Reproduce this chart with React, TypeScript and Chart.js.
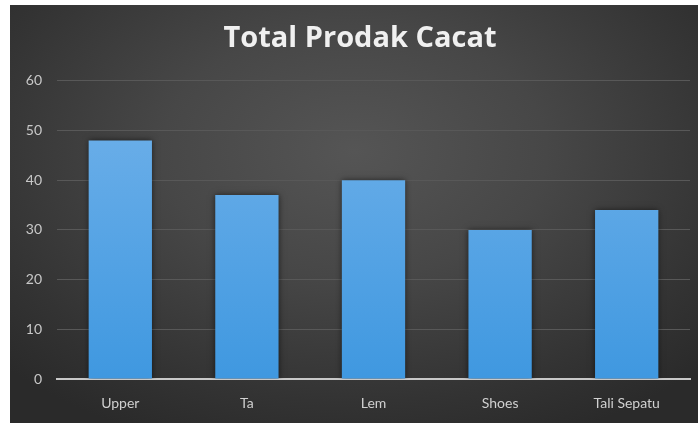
import React, { useEffect, useRef } from "react";
import { Chart, registerables } from "chart.js";

Chart.register(...registerables);

const categories = ["Upper", "Ta", "Lem", "Shoes", "Tali Sepatu"];
const totals = [48, 37, 40, 30, 34];
const yTicks = [0, 10, 20, 30, 40, 50, 60];
const chartTitle = "Total Prodak Cacat";

const barShadow = {
  id: "barShadow",
  beforeDatasetsDraw(chart: any) {
    const ctx = chart.ctx;
    ctx.save();
    ctx.shadowColor = "rgba(0,0,0,0.55)";
    ctx.shadowBlur = 6;
    ctx.shadowOffsetX = 0;
    ctx.shadowOffsetY = 0;
  },
  afterDatasetsDraw(chart: any) {
    chart.ctx.restore();
  },
};

const titleShift = {
  id: "titleShift",
  afterLayout(chart: any) {
    const t = chart.titleBlock;
    if (t) {
      t.left += 10;
      t.right += 10;
    }
  },
};

export default function App() {
  const ref = useRef<HTMLCanvasElement | null>(null);
  useEffect(() => {
    if (!ref.current) return;
    const chart = new Chart(ref.current, {
      type: "bar",
      data: {
        labels: categories,
        datasets: [
          {
            label: chartTitle,
            data: totals,
            backgroundColor: (c: any) => {
              const area = c.chart.chartArea;
              if (!area) return "#5aa5e6";
              const g = c.chart.ctx.createLinearGradient(0, area.top, 0, area.bottom);
              g.addColorStop(0, "#72b2ea");
              g.addColorStop(1, "#3f98e0");
              return g;
            },
            borderWidth: 0,
            barPercentage: 0.5,
            categoryPercentage: 1,
          },
        ],
      },
      options: {
        animation: false,
        responsive: false,
        maintainAspectRatio: false,
        layout: { padding: { left: 0, right: 8, top: 0, bottom: 0 } },
        plugins: {
          legend: { display: false },
          tooltip: { enabled: false },
          title: {
            display: true,
            text: chartTitle,
            color: "#f0f0f0",
            font: { family: "'Open Sans', sans-serif", size: 29, weight: "bold" },
            padding: { top: 16, bottom: 25 },
          },
        },
        scales: {
          x: {
            grid: { display: false, drawTicks: false },
            border: { display: true, color: "#c8c8c8", width: 2 },
            ticks: {
              color: "#d0d0d0",
              font: { family: "Lato, sans-serif", size: 14 },
              padding: 16,
            },
            afterFit: (s: any) => {
              s.height = 44;
            },
          },
          y: {
            min: 0,
            max: 60,
            afterBuildTicks: (s: any) => {
              s.ticks = yTicks.map((v) => ({ value: v }));
            },
            grid: { color: "#585858", lineWidth: 1, drawTicks: false },
            border: { display: false },
            ticks: {
              color: "#c8c8c8",
              font: { family: "Lato, sans-serif", size: 14 },
              padding: 15,
            },
            afterFit: (s: any) => {
              s.width = 47;
            },
          },
        },
      },
      plugins: [barShadow, titleShift],
    });
    return () => chart.destroy();
  }, []);
  return (
    <div
      style={{
        position: "absolute",
        left: 10,
        top: 5,
        width: 688,
        height: 418,
        background:
          "radial-gradient(ellipse 70% 75% at 50% 35%, #555555 0%, #474747 40%, #333333 80%, #2a2a2a 100%)",
      }}
    >
      <canvas ref={ref} width={688} height={418} style={{ display: "block" }} />
    </div>
  );
}
